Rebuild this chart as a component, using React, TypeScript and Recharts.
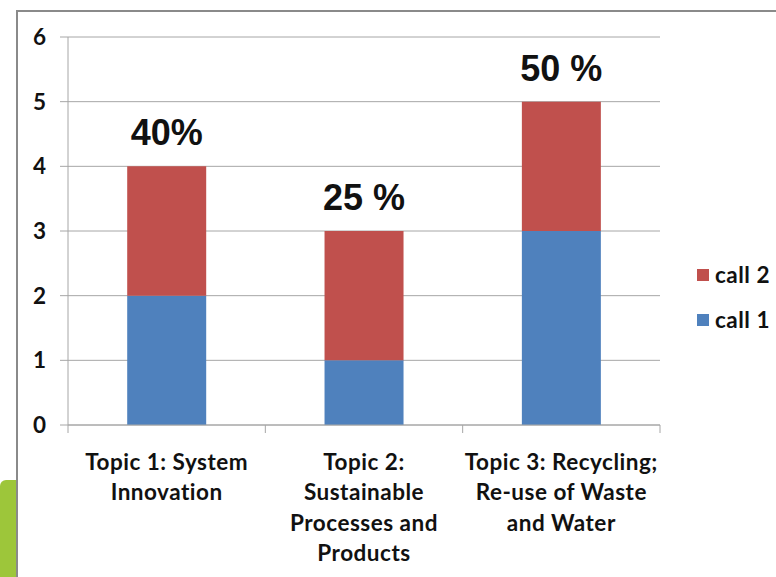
import React from "react";
import {
  BarChart,
  Bar,
  XAxis,
  YAxis,
  CartesianGrid,
  Legend,
  LabelList,
} from "recharts";

const categories = [
  "Topic 1: System Innovation",
  "Topic 2: Sustainable Processes and Products",
  "Topic 3: Recycling; Re-use of Waste and Water",
];
const tickLines = [
  ["Topic 1: System", "Innovation"],
  ["Topic 2:", "Sustainable", "Processes and", "Products"],
  ["Topic 3: Recycling;", "Re-use of Waste", "and Water"],
];
const call1 = [2, 1, 3];
const call2 = [2, 2, 2];
const shareLabels = ["40%", "25 %", "50 %"];
const yTicks = [0, 1, 2, 3, 4, 5, 6];

const data = categories.map((name, i) => ({
  name,
  call1: call1[i],
  call2: call2[i],
}));

const W = 776;
const H = 577;
const PLOT_LEFT = 68;
const PLOT_RIGHT = 660;
const HALF_BAND = (PLOT_RIGHT - PLOT_LEFT) / categories.length / 2;
const labelFont = "Lato, 'Open Sans', sans-serif";
const gridColor = "#a6a6a6";

const XTick = (props: any) => {
  const { x, y, index } = props;
  const lines = tickLines[index] || [];
  return (
    <g>
      {index === 0 && (
        <line x1={x - HALF_BAND} x2={x - HALF_BAND} y1={y} y2={y + 8} stroke={gridColor} />
      )}
      <line x1={x + HALF_BAND} x2={x + HALF_BAND} y1={y} y2={y + 8} stroke={gridColor} />
      {lines.map((l, i) => (
        <text
          key={i}
          x={x}
          y={y + 36 + i * 30.5}
          textAnchor="middle"
          dominantBaseline="central"
          fontFamily={labelFont}
          fontWeight="bold"
          fontSize={22.5}
          letterSpacing={0.5}
          fill="#111"
        >
          {l}
        </text>
      ))}
    </g>
  );
};

const ShareLabel = (props: any) => {
  const { x, y, width, index } = props;
  return (
    <text
      x={x + width / 2}
      y={y - 21}
      textAnchor="middle"
      fontFamily="'Liberation Sans', Arial, sans-serif"
      fontWeight="bold"
      fontSize={36}
      fill="#111"
    >
      {shareLabels[index]}
    </text>
  );
};

const LegendBox = (props: any) => {
  const items = [...(props.payload || [])].reverse();
  return (
    <div>
      {items.map((it: any) => (
        <div
          key={it.value}
          style={{
            display: "flex",
            alignItems: "center",
            height: 45,
            fontFamily: labelFont,
            fontWeight: "bold",
            fontSize: 22.5,
            letterSpacing: 0.5,
            color: "#111",
          }}
        >
          <span
            style={{
              display: "inline-block",
              width: 12,
              height: 12,
              background: it.color,
              marginRight: 6,
            }}
          />
          {it.value}
        </div>
      ))}
    </div>
  );
};

export default function App() {
  return (
    <div
      style={{
        position: "absolute",
        left: 0,
        top: 0,
        width: W,
        height: H,
        overflow: "hidden",
        background: "#fff",
      }}
    >
      <div
        style={{
          position: "absolute",
          left: 0,
          top: 480,
          width: 17,
          height: 110,
          background: "#9dc63a",
          borderTopLeftRadius: 6,
        }}
      />
      <div
        style={{
          position: "absolute",
          left: 16,
          top: 10,
          width: 800,
          height: 600,
          borderLeft: "2px solid #8a8a8a",
          borderTop: "2px solid #8a8a8a",
          background: "#fff",
        }}
      />
      <div style={{ position: "absolute", left: 0, top: 0 }}>
        <BarChart
          width={W}
          height={H}
          data={data}
          margin={{ top: 37, right: W - PLOT_RIGHT, left: 0, bottom: 0 }}
          barCategoryGap="30%"
        >
          <CartesianGrid vertical={false} stroke={gridColor} />
          <XAxis
            dataKey="name"
            height={152}
            tickLine={false}
            tickSize={0}
            tickMargin={0}
            interval={0}
            axisLine={{ stroke: gridColor }}
            tick={<XTick />}
          />
          <YAxis
            width={PLOT_LEFT}
            domain={[0, 6]}
            ticks={yTicks}
            axisLine={{ stroke: gridColor }}
            tickLine={{ stroke: gridColor }}
            tickSize={8}
            tickMargin={14}
            tick={{
              fontFamily: labelFont,
              fontWeight: "bold",
              fontSize: 22.5,
              fill: "#111",
            }}
          />
          <Legend
            layout="vertical"
            align="center"
            verticalAlign="middle"
            wrapperStyle={{ left: 697, top: 252, width: 80 }}
            content={<LegendBox />}
          />
          <Bar
            dataKey="call1"
            name="call 1"
            stackId="a"
            fill="#4f81bd"
            isAnimationActive={false}
          />
          <Bar
            dataKey="call2"
            name="call 2"
            stackId="a"
            fill="#c0504d"
            isAnimationActive={false}
          >
            <LabelList dataKey="call2" content={<ShareLabel />} />
          </Bar>
        </BarChart>
      </div>
    </div>
  );
}
